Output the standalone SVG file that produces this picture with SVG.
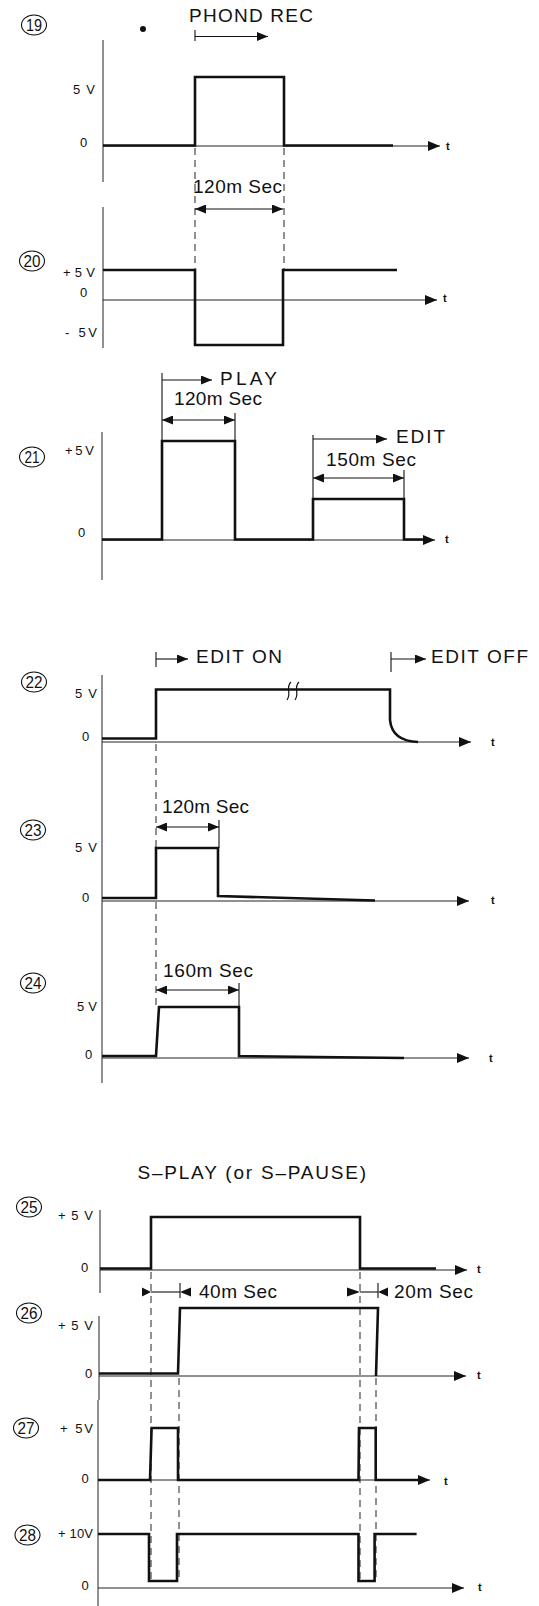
<svg xmlns="http://www.w3.org/2000/svg" width="539" height="1606" viewBox="0 0 539 1606">
<defs>
<style>
.sig{fill:none;stroke:#111;stroke-width:2.6;stroke-linejoin:miter}
.ax{fill:none;stroke:#222;stroke-width:1}
.dash{fill:none;stroke:#222;stroke-width:1;stroke-dasharray:7 5}
.thin{fill:none;stroke:#111;stroke-width:1.1}
.brk{fill:none;stroke:#111;stroke-width:1.2}
.circ{fill:none;stroke:#111;stroke-width:1.1}
text{font-family:"Liberation Sans",Arial,Helvetica,sans-serif;fill:#111}
.lbl{font-size:19px}
.sm{font-size:13px}
.num{font-size:16px;text-anchor:middle}
.t{font-size:11px;font-weight:bold}
.head{fill:#111}
</style>
<marker id="axh" viewBox="0 0 12 10" refX="12" refY="5" markerWidth="12" markerHeight="10" markerUnits="userSpaceOnUse" orient="auto"><path d="M0,0 L12,5 L0,10 z" fill="#111"/></marker>
<marker id="dh" viewBox="0 0 11 9" refX="11" refY="4.5" markerWidth="11" markerHeight="9" markerUnits="userSpaceOnUse" orient="auto-start-reverse"><path d="M0,0 L11,4.5 L0,9 z" fill="#111"/></marker>
</defs>
<rect width="539" height="1606" fill="#fff"/>

<g id="w19">
<ellipse class="circ" cx="34" cy="25" rx="12.5" ry="10"/>
<text class="num" x="34" y="31" textLength="16" lengthAdjust="spacingAndGlyphs">19</text>
<circle cx="143" cy="29" r="3" fill="#111"/>
<text class="lbl" x="189" y="22" textLength="124" lengthAdjust="spacing">PHOND REC</text>
<line class="thin" x1="195" y1="30" x2="195" y2="41"/>
<line class="thin" x1="195" y1="36.5" x2="268" y2="36.5" marker-end="url(#dh)"/>
<line class="ax" x1="103" y1="40" x2="103" y2="182"/>
<line class="ax" x1="103" y1="146" x2="440" y2="146" marker-end="url(#axh)"/>
<path class="sig" d="M103,145.5 H195 V77 H284 V145.5 H393"/>
<text class="sm" x="73" y="94" textLength="22" lengthAdjust="spacing">5 V</text>
<text class="sm" x="80" y="147">0</text>
<text class="t" x="446" y="150">t</text>
<line class="dash" x1="195" y1="148" x2="195" y2="270"/>
<line class="dash" x1="284" y1="148" x2="284" y2="270"/>
<text class="lbl" x="193" y="193" textLength="89" lengthAdjust="spacing">120m Sec</text>
<line class="thin" x1="195" y1="209" x2="283" y2="209" marker-start="url(#dh)" marker-end="url(#dh)"/>
</g>

<g id="w20">
<ellipse class="circ" cx="32" cy="261" rx="12.5" ry="10"/>
<text class="num" x="32" y="267" textLength="17" lengthAdjust="spacingAndGlyphs">20</text>
<line class="ax" x1="103" y1="207" x2="103" y2="348"/>
<line class="ax" x1="103" y1="300" x2="437" y2="300" marker-end="url(#axh)"/>
<path class="sig" d="M103,270 H195 V345 H283 V270 H397"/>
<text class="sm" x="63" y="277" textLength="32" lengthAdjust="spacing">+5V</text>
<text class="sm" x="80" y="297">0</text>
<text class="sm" x="65" y="337" textLength="32" lengthAdjust="spacing">- 5V</text>
<text class="t" x="443" y="302">t</text>
</g>

<g id="w21">
<ellipse class="circ" cx="32" cy="457" rx="12.5" ry="10"/>
<text class="num" x="32" y="463" textLength="15" lengthAdjust="spacingAndGlyphs">21</text>
<line class="ax" x1="102" y1="432" x2="102" y2="580"/>
<line class="ax" x1="102" y1="540" x2="435" y2="540" marker-end="url(#axh)"/>
<path class="sig" d="M102,539.5 H162 V441 H235 V539.5 H313 V499 H404 V539.5 H425"/>
<text class="sm" x="65" y="455" textLength="29" lengthAdjust="spacing">+5V</text>
<text class="sm" x="78" y="537">0</text>
<text class="t" x="445" y="543">t</text>
<line class="thin" x1="162" y1="373" x2="162" y2="441"/>
<line class="thin" x1="235" y1="413" x2="235" y2="441"/>
<line class="thin" x1="313" y1="435" x2="313" y2="499"/>
<line class="thin" x1="404" y1="470" x2="404" y2="499"/>
<line class="thin" x1="162" y1="380" x2="212" y2="380" marker-end="url(#dh)"/>
<text class="lbl" x="220" y="385" textLength="57" lengthAdjust="spacing">PLAY</text>
<text class="lbl" x="174" y="405" textLength="88" lengthAdjust="spacing">120m Sec</text>
<line class="thin" x1="162" y1="420" x2="235" y2="420" marker-start="url(#dh)" marker-end="url(#dh)"/>
<line class="thin" x1="313" y1="439" x2="387" y2="439" marker-end="url(#dh)"/>
<text class="lbl" x="396" y="443" textLength="49" lengthAdjust="spacing">EDIT</text>
<text class="lbl" x="326" y="466" textLength="90" lengthAdjust="spacing">150m Sec</text>
<line class="thin" x1="313" y1="478" x2="404" y2="478" marker-start="url(#dh)" marker-end="url(#dh)"/>
</g>

<g id="w22">
<ellipse class="circ" cx="34" cy="682" rx="12.5" ry="10"/>
<text class="num" x="34" y="688" textLength="17" lengthAdjust="spacingAndGlyphs">22</text>
<line class="thin" x1="156" y1="652" x2="156" y2="667"/>
<line class="thin" x1="391" y1="652" x2="391" y2="672"/>
<line class="thin" x1="156" y1="659" x2="188" y2="659" marker-end="url(#dh)"/>
<line class="thin" x1="391" y1="659" x2="426" y2="659" marker-end="url(#dh)"/>
<text class="lbl" x="196" y="663" textLength="86" lengthAdjust="spacing">EDIT ON</text>
<text class="lbl" x="431" y="663" textLength="97" lengthAdjust="spacing">EDIT OFF</text>
<line class="ax" x1="102" y1="675" x2="102" y2="790"/>
<line class="ax" x1="102" y1="742" x2="471" y2="742" marker-end="url(#axh)"/>
<path class="sig" d="M102,738.5 H156 V689.5 H390 V720 Q392,741 418,742"/>
<path class="brk" d="M291,682 C285,688 292,693 287,700"/>
<path class="brk" d="M299,682 C293,688 300,693 295,700"/>
<text class="sm" x="75" y="698" textLength="22" lengthAdjust="spacing">5 V</text>
<text class="sm" x="82" y="741">0</text>
<text class="t" x="491" y="746">t</text>
<line class="dash" x1="156" y1="744" x2="156" y2="848"/>
</g>

<g id="w23">
<ellipse class="circ" cx="33" cy="830" rx="12.5" ry="10"/>
<text class="num" x="33" y="836" textLength="17" lengthAdjust="spacingAndGlyphs">23</text>
<line class="ax" x1="102" y1="790" x2="102" y2="940"/>
<text class="lbl" x="162" y="813" textLength="87" lengthAdjust="spacing">120m Sec</text>
<line class="thin" x1="156" y1="827" x2="219" y2="827" marker-start="url(#dh)" marker-end="url(#dh)"/>
<line class="thin" x1="219" y1="820" x2="219" y2="848"/>
<line class="ax" x1="102" y1="901" x2="469" y2="901" marker-end="url(#axh)"/>
<path class="sig" d="M102,898 H156 V848 H218 V896 L375,900.5"/>
<text class="sm" x="75" y="852" textLength="22" lengthAdjust="spacing">5 V</text>
<text class="sm" x="82" y="902">0</text>
<text class="t" x="491" y="904">t</text>
<line class="dash" x1="156" y1="902" x2="156" y2="1007"/>
</g>

<g id="w24">
<ellipse class="circ" cx="33" cy="983" rx="12.5" ry="10"/>
<text class="num" x="33" y="989" textLength="17" lengthAdjust="spacingAndGlyphs">24</text>
<line class="ax" x1="102" y1="940" x2="102" y2="1083"/>
<text class="lbl" x="163" y="977" textLength="90" lengthAdjust="spacing">160m Sec</text>
<line class="thin" x1="156" y1="990" x2="239" y2="990" marker-start="url(#dh)" marker-end="url(#dh)"/>
<line class="thin" x1="239" y1="983" x2="239" y2="1007"/>
<line class="ax" x1="102" y1="1058" x2="469" y2="1058" marker-end="url(#axh)"/>
<path class="sig" d="M102,1056 H156 L159,1007 H239 V1056 L404,1058"/>
<text class="sm" x="77" y="1011" textLength="20" lengthAdjust="spacing">5 V</text>
<text class="sm" x="85" y="1059">0</text>
<text class="t" x="489" y="1062">t</text>
</g>

<g id="title">
<text class="lbl" x="137.5" y="1179" textLength="228.5" lengthAdjust="spacing">S–PLAY (or S–PAUSE)</text>
</g>

<g id="w25">
<ellipse class="circ" cx="29" cy="1207" rx="12.5" ry="10"/>
<text class="num" x="29" y="1213" textLength="17" lengthAdjust="spacingAndGlyphs">25</text>
<line class="ax" x1="100" y1="1210" x2="100" y2="1293"/>
<line class="ax" x1="100" y1="1270" x2="467" y2="1270" marker-end="url(#axh)"/>
<path class="sig" d="M100,1268.5 H151 V1217 H360 V1268.5 H436"/>
<text class="sm" x="58" y="1220" textLength="35" lengthAdjust="spacing">+ 5 V</text>
<text class="sm" x="81" y="1272">0</text>
<text class="t" x="477" y="1273">t</text>
</g>

<g id="timing">
<line class="thin" x1="151" y1="1292" x2="180" y2="1292"/>
<polygon class="head" points="142,1287.5 151,1292 142,1296.5"/>
<polygon class="head" points="191,1287.5 180,1292 191,1296.5"/>
<line class="thin" x1="180" y1="1283" x2="180" y2="1298"/>
<text class="lbl" x="199" y="1298" textLength="78" lengthAdjust="spacing">40m Sec</text>
<line class="thin" x1="360" y1="1292" x2="378" y2="1292"/>
<polygon class="head" points="347,1287.5 360,1292 347,1296.5"/>
<polygon class="head" points="388,1287.5 378,1292 388,1296.5"/>
<line class="thin" x1="378" y1="1283" x2="378" y2="1298"/>
<text class="lbl" x="394" y="1298" textLength="79" lengthAdjust="spacing">20m Sec</text>
<line class="dash" x1="151" y1="1272" x2="151" y2="1582"/>
<line class="dash" x1="360" y1="1272" x2="360" y2="1582"/>
<line class="dash" x1="179" y1="1378" x2="179" y2="1582"/>
<line class="dash" x1="376" y1="1378" x2="376" y2="1582"/>
</g>

<g id="w26">
<ellipse class="circ" cx="29" cy="1313" rx="12.5" ry="10"/>
<text class="num" x="29" y="1319" textLength="17" lengthAdjust="spacingAndGlyphs">26</text>
<line class="ax" x1="99" y1="1316" x2="99" y2="1400"/>
<line class="ax" x1="99" y1="1376" x2="466" y2="1376" marker-end="url(#axh)"/>
<path class="sig" d="M99,1373.5 H178 L180,1308 H378 L376,1376"/>
<text class="sm" x="58" y="1330" textLength="35" lengthAdjust="spacing">+ 5 V</text>
<text class="sm" x="85" y="1378">0</text>
<text class="t" x="477" y="1379">t</text>
</g>

<g id="w27">
<ellipse class="circ" cx="26" cy="1428" rx="12.5" ry="10"/>
<text class="num" x="26" y="1434" textLength="17" lengthAdjust="spacingAndGlyphs">27</text>
<line class="ax" x1="98" y1="1400" x2="98" y2="1500"/>
<line class="ax" x1="98" y1="1480" x2="430" y2="1480" marker-end="url(#axh)"/>
<path class="sig" d="M98,1480 H150 L151.6,1428 H178 V1480 H358.5 L359,1428 H375.7 V1480 H420"/>
<text class="sm" x="60" y="1433" textLength="33" lengthAdjust="spacing">+ 5V</text>
<text class="sm" x="81.5" y="1483">0</text>
<text class="t" x="444" y="1485">t</text>
</g>

<g id="w28">
<ellipse class="circ" cx="27.5" cy="1535" rx="12.5" ry="10"/>
<text class="num" x="27.5" y="1541" textLength="17" lengthAdjust="spacingAndGlyphs">28</text>
<line class="ax" x1="98" y1="1500" x2="98" y2="1606"/>
<line class="ax" x1="98" y1="1588" x2="464" y2="1588" marker-end="url(#axh)"/>
<path class="sig" d="M98,1534 H149 V1581 H177 V1534 H358.5 V1581 H374.6 V1534 H416.6"/>
<text class="sm" x="58" y="1538" textLength="35" lengthAdjust="spacing">+ 10V</text>
<text class="sm" x="81.5" y="1590">0</text>
<text class="t" x="478" y="1591">t</text>
</g>
</svg>
